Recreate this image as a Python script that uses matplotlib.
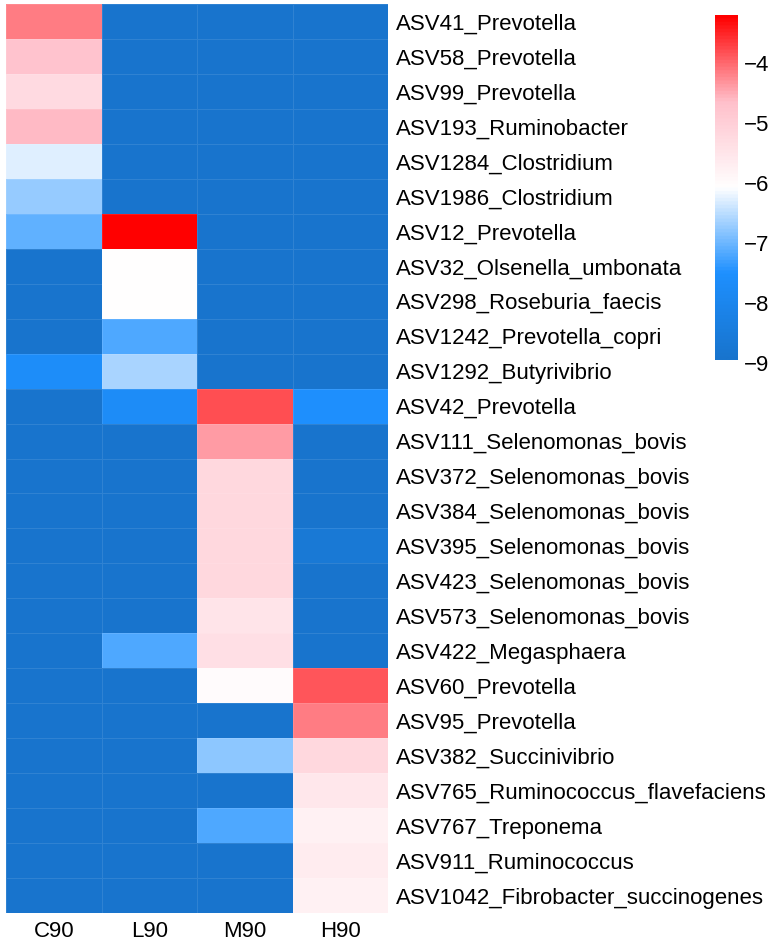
import numpy as np
import matplotlib
matplotlib.use("Agg")
import matplotlib.pyplot as plt
from matplotlib.colors import LinearSegmentedColormap, Normalize

plt.rcParams['font.family'] = ['Liberation Sans', 'DejaVu Sans']

samples = ['C90', 'L90', 'M90', 'H90']
taxa = ['ASV41_Prevotella', 'ASV58_Prevotella', 'ASV99_Prevotella',
        'ASV193_Ruminobacter', 'ASV1284_Clostridium', 'ASV1986_Clostridium',
        'ASV12_Prevotella', 'ASV32_Olsenella_umbonata', 'ASV298_Roseburia_faecis',
        'ASV1242_Prevotella_copri', 'ASV1292_Butyrivibrio', 'ASV42_Prevotella',
        'ASV111_Selenomonas_bovis', 'ASV372_Selenomonas_bovis',
        'ASV384_Selenomonas_bovis', 'ASV395_Selenomonas_bovis',
        'ASV423_Selenomonas_bovis', 'ASV573_Selenomonas_bovis',
        'ASV422_Megasphaera', 'ASV60_Prevotella', 'ASV95_Prevotella',
        'ASV382_Succinivibrio', 'ASV765_Ruminococcus_flavefaciens',
        'ASV767_Treponema', 'ASV911_Ruminococcus', 'ASV1042_Fibrobacter_succinogenes']

# log abundance per sample (columns C90, L90, M90, H90)
C90 = [-4.14, -4.70, -5.23, -4.60, -6.27, -6.72, -7.08, -8.95, -8.95, -8.95, -7.65, -8.95, -8.95,
       -8.95, -8.95, -8.95, -8.95, -8.95, -8.95, -8.95, -8.95, -8.95, -8.95, -8.95, -8.95, -8.95]
L90 = [-8.95, -8.95, -8.95, -8.95, -8.95, -8.95, -3.20, -6.02, -6.02, -7.19, -6.61, -7.70, -8.95,
       -8.95, -8.95, -8.95, -8.95, -8.95, -7.19, -8.95, -8.95, -8.95, -8.95, -8.95, -8.95, -8.95]
M90 = [-8.95, -8.95, -8.95, -8.95, -8.95, -8.95, -8.95, -8.95, -8.95, -8.95, -8.95, -3.80, -4.36,
       -5.17, -5.17, -5.17, -5.17, -5.46, -5.33, -6.00, -8.95, -6.81, -8.95, -7.19, -8.95, -8.95]
H90 = [-8.95, -8.95, -8.95, -8.95, -8.95, -8.95, -8.95, -8.95, -8.95, -8.95, -8.95, -7.55, -8.95,
       -8.95, -8.95, -8.70, -8.95, -8.95, -8.95, -3.88, -4.14, -5.17, -5.55, -5.74, -5.62, -5.74]

cb_ticks = [-9, -8, -7, -6, -5, -4]
palette = ['#1874CD', '#1E90FF', '#FFFFFF', '#FFC0CB', '#FF0000']

data = np.array([C90, L90, M90, H90]).T
vmin, vmax = data.min(), data.max()

cmap = LinearSegmentedColormap.from_list('hm', palette, N=100)
norm = Normalize(vmin=vmin, vmax=vmax)

fig = plt.figure(figsize=(7.8, 9.43), dpi=100)
ax = fig.add_axes([6 / 780, 1 - 913 / 943, 382 / 780, 909 / 943])
ax.pcolormesh(np.arange(len(samples) + 1), np.arange(len(taxa) + 1), data,
              cmap=cmap, norm=norm, edgecolors=(1, 1, 1, 0.1), linewidth=0.6)
ax.set_xlim(0, len(samples))
ax.set_ylim(len(taxa), 0)
ax.set_xticks(np.arange(len(samples)) + 0.5)
ax.set_xticklabels(samples, fontsize=16)
ax.set_yticks(np.arange(len(taxa)) + 0.5)
ax.set_yticklabels(taxa, fontsize=16)
ax.yaxis.tick_right()
ax.tick_params(length=0, pad=6)
for s in ax.spines.values():
    s.set_visible(False)

# colour key
lo, hi = -9.1, vmax
cax = fig.add_axes([715 / 780, 1 - 369 / 943, 23 / 780, 354 / 943])
grad = np.linspace(vmax, vmin, 200).reshape(-1, 1)
cax.imshow(grad, extent=[0, 1, vmin, vmax], aspect='auto', cmap=cmap, norm=norm)
cax.set_ylim(lo, hi)
cax.set_xlim(0, 1)
cax.set_xticks([])
cax.yaxis.tick_right()
cax.set_yticks(cb_ticks)
cax.set_yticklabels([f'\u2212{abs(t)}' for t in cb_ticks], fontsize=16)
cax.tick_params(length=0, pad=4)
for s in cax.spines.values():
    s.set_visible(False)

fig.savefig('out.png', dpi=100)
